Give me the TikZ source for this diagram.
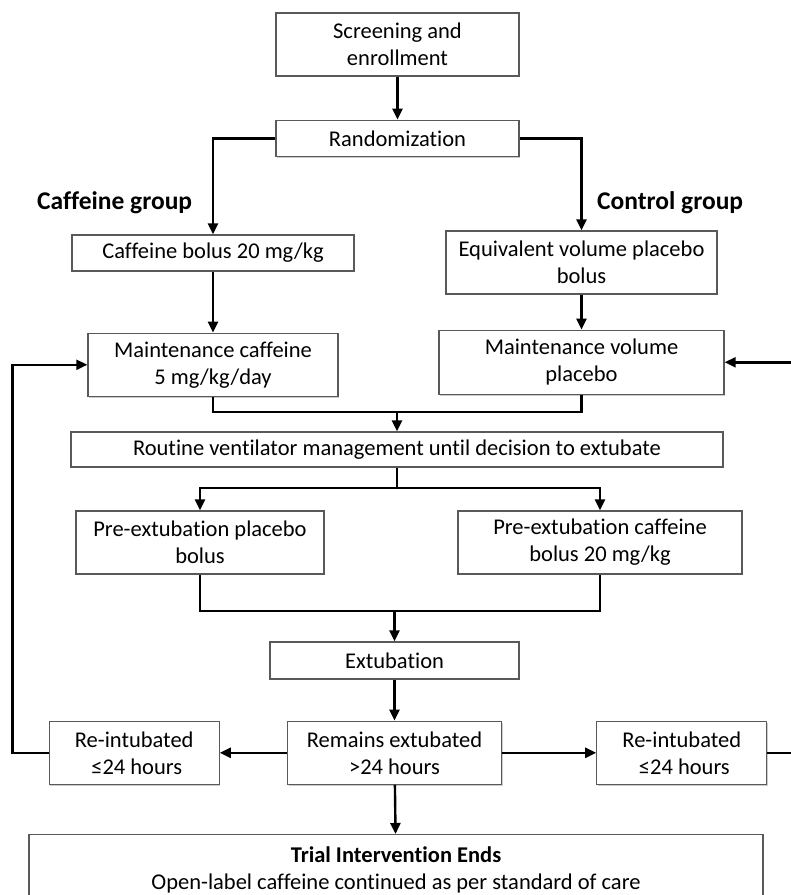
\documentclass[tikz,border=0pt]{standalone}
\usepackage{fontspec}
\setmainfont{Carlito}[Ligatures={NoCommon,NoRare,NoContextual}]
\usepackage{tikz}
\usetikzlibrary{positioning,arrows.meta,shadows}

\begin{document}
\begin{tikzpicture}[x=1pt, y=-1pt, ->, >={Triangle[length=11pt,width=10pt]}, line width=2.4pt,
    box/.style={draw=black!65, line width=1.3pt, fill=white, align=center, inner sep=0pt,
        font=\fontsize{22.5}{27}\selectfont,
        drop shadow={shadow xshift=1.2pt, shadow yshift=-1.2pt, fill=black!40, opacity=0.5}},
    grp/.style={font=\fontsize{25.5}{30}\selectfont\bfseries, anchor=base west, inner sep=0pt}]

        \useasboundingbox (0,0) rectangle (791,895);
        \clip (0,0) rectangle (791,895);

        % top of the trial
        \node (scr) [box, minimum width=243pt, minimum height=63pt] at (397.5,44.5) {Screening and\\enrollment};
        \node (rand) [box, minimum width=243pt, minimum height=36pt, below=43pt of scr] {Randomization};

        \node (cafgrp) [grp] at (36,209) {Caffeine group};
        \node (ctlgrp) [grp] at (596,209) {Control group};

        % two arms
        \node (cafbol) [box, minimum width=282pt, minimum height=36pt] at (213,253) {Caffeine bolus 20 mg/kg};
        \node (plabol) [box, minimum width=271pt, minimum height=63pt] at (581.5,262.5) {Equivalent volume placebo\\bolus};
        \node (cafmain) [box, minimum width=250pt, minimum height=63pt, below=61pt of cafbol] {Maintenance caffeine\\5 mg/kg/day};
        \node (plamain) [box, minimum width=285pt, minimum height=64pt, below=35pt of plabol] {Maintenance volume\\placebo};

        \node (vent) [box, minimum width=652pt, minimum height=35pt] at (397,449.5) {Routine ventilator management until decision to extubate};

        \node (preplac) [box, minimum width=248pt, minimum height=63pt] at (200,542.5) {Pre-extubation placebo\\bolus};
        \node (precaf) [box, minimum width=284pt, minimum height=63pt] at (600,542.5) {Pre-extubation caffeine\\bolus 20 mg/kg};

        \node (extub) [box, minimum width=249pt, minimum height=37pt] at (394.5,660.5) {Extubation};
        \node (remain) [box, minimum width=214pt, minimum height=63pt, below=41pt of extub] {Remains extubated\\>24 hours};
        \node (reintl) [box, minimum width=170pt, minimum height=63pt, left=67pt of remain] {Re-intubated\\~≤24 hours};
        \node (reintr) [box, minimum width=170pt, minimum height=63pt, right=94pt of remain] {Re-intubated\\~≤24 hours};

        \node (trial) [box, anchor=north, minimum width=734pt, inner ysep=12pt] at (396,834)
            {\textbf{Trial Intervention Ends}\\Open-label caffeine continued as per standard of care};

        \coordinate (m1) at (397,412);
        \coordinate (s1) at (397,488);
        \coordinate (m2) at (394.5,611);

        \draw (scr) -- (rand);
        \draw (rand.west) -| (cafbol);
        \draw (rand.east) -| (plabol);
        \draw (cafbol) -- (cafmain);
        \draw (plabol) -- (plamain);

        \draw[-] (cafmain.south) |- (m1) -| (plamain.south);
        \draw (m1) -- (vent);
        \draw[-] (vent) -- (s1);
        \draw (s1) -| (preplac);
        \draw (s1) -| (precaf);
        \draw[-] (preplac) |- (m2) -| (precaf);
        \draw (m2) -- (extub);

        \draw (extub) -- (remain);
        \draw (remain) -- (reintl);
        \draw (remain) -- (reintr);
        \draw (remain) -- (trial);

        % back to maintenance
        \draw (reintl.west) -- ++(-36,0) |- (cafmain.west);
        \draw (reintr.east) -- ++(30,0) |- (plamain.east);

    \end{tikzpicture}
\end{document}
